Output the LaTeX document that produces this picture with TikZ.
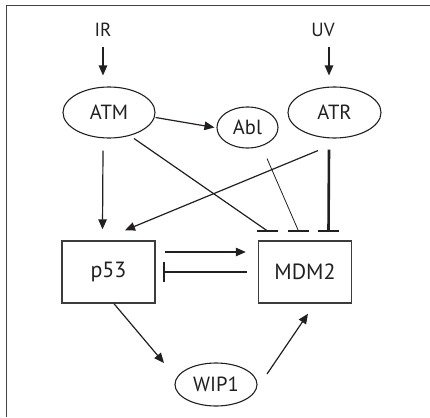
\documentclass[tikz,border=0pt]{standalone}
\usepackage{fontspec}
\setmainfont{PT Sans}
\usetikzlibrary{shapes.geometric,arrows.meta}
\definecolor{ink}{HTML}{231F20}
\definecolor{boxink}{HTML}{3C3C3C}
\tikzset{
  lbl/.style={inner sep=0pt, font=\fontsize{19pt}{20pt}\selectfont, text=ink},
  oval/.style={ellipse, draw=ink, line width=1.1pt, inner sep=0pt,
    font=\fontsize{20.5pt}{21pt}\selectfont, text=ink},
  protein/.style={rectangle, draw=boxink, line width=1.4pt, inner sep=0pt,
    minimum width=93pt, minimum height=62pt,
    font=\fontsize{22pt}{23pt}\selectfont, text=ink},
  act/.style={draw=ink, line width=1.2pt, -{Triangle[length=10pt,width=8.5pt]}},
  inh/.style={draw=ink, line width=1.2pt},
  inhthin/.style={draw=ink, line width=0.8pt},
  inhthick/.style={draw=ink, line width=2.6pt},
  tbar/.style={draw=ink, line width=2.8pt},
}
\begin{document}
\begin{tikzpicture}[x=1pt,y=-1pt]
  \useasboundingbox (0,0) rectangle (430,417);
  % cropped frame: top and left edges only
  \draw[draw=ink!85, line width=1.4pt] (6.5,417) -- (6.5,5.5) -- (430,5.5);

  % stimuli
  \node[lbl] (IR) at (103,30) {IR};
  \node[lbl] (UV) at (323,30) {UV};

  % kinases and phosphatase
  \node[oval, minimum width=92pt, minimum height=51pt] (ATM) at (109,112.5) {ATM};
  \node[oval, minimum width=93pt, minimum height=51pt] (ATR) at (334.5,112.5) {ATR};
  \node[oval, minimum width=61pt, minimum height=41pt] (Abl) at (247.5,127.5) {Abl};
  \node[oval, minimum width=82pt, minimum height=43pt] (WIP1) at (216,384.5) {WIP1};

  % core loop
  \node[protein] (p53) at (108.5,272) {p53};
  \node[protein] (MDM2) at (305,272) {MDM2};

  % points on MDM2 where the inhibitory bars sit
  \coordinate (barA) at (267.5,231);
  \coordinate (barB) at (298.5,231);
  \coordinate (barC) at (328.5,231);
  \coordinate (barP) at (164,272);

  % stimulus arrows
  \draw[act] ([yshift=-17pt]IR.center) -- ([yshift=11pt]IR.center |- ATM.north);
  \draw[act] ([xshift=6pt,yshift=-17pt]UV.center) -- ([xshift=6pt,yshift=11pt]UV.center |- ATR.north);

  % ATM outputs
  \draw[act] ([xshift=0pt,yshift=-5pt]ATM.east) -- ([xshift=-2pt]Abl.west);
  \draw[act] ([xshift=-6pt,yshift=-12pt]ATM.south) -- ([xshift=-6pt,yshift=11pt]p53.north);
  \draw[inh] ([xshift=25pt,yshift=-26pt]ATM.center) -- (barA);

  % Abl and ATR onto MDM2
  \draw[inhthin] ([xshift=19.5pt,yshift=-31pt]Abl.center) -- (barB);
  \draw[inhthick] ([xshift=-5.5pt,yshift=-11pt]ATR.south) -- (barC);
  \draw[act] ([xshift=-16.5pt,yshift=-12pt]ATR.south) -- ([xshift=16.5pt,yshift=10pt]p53.north);

  % flat heads of the inhibitory edges
  \foreach \b in {barA,barB,barC}
    \draw[tbar] ([xshift=-10.5pt]\b) -- ([xshift=10.5pt]\b);

  % p53 / MDM2 feedback
  \draw[act] ([xshift=9pt,yshift=20pt]p53.east) -- ([xshift=-12pt,yshift=20pt]MDM2.west);
  \draw[inhthick] ([xshift=-11pt]MDM2.west) -- (barP);
  \draw[tbar] ([yshift=10pt]barP) -- ([yshift=-10pt]barP);

  % WIP1 branch
  \draw[act] ([xshift=5.5pt]p53.south) -- ([xshift=-52pt,yshift=21.5pt]WIP1.center);
  \draw[act] ([xshift=51pt,yshift=10.5pt]WIP1.center) -- ([xshift=3pt,yshift=-10pt]MDM2.south);
\end{tikzpicture}
\end{document}
